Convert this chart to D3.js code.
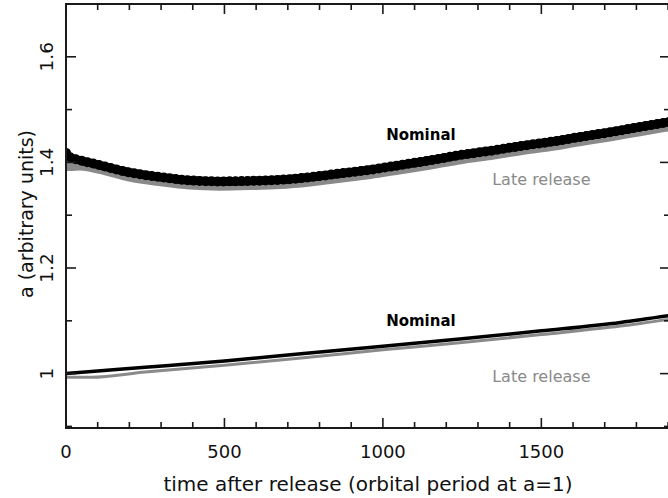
<!DOCTYPE html>
<html>
<head>
<meta charset="utf-8">
<script src="https://cdn.jsdelivr.net/npm/d3@7"></script>
<style>
  body { margin: 0; background: #fff; }
  svg { display: block; font-family: "DejaVu Sans", sans-serif; }
</style>
</head>
<body>
<svg width="668" height="498"></svg>
<script>
// time after release (orbital periods) and semi-major axis a
var timeUpper    = [0, 12, 45, 105, 200, 300, 390, 485, 580, 675, 770, 865, 960, 1055, 1150, 1245, 1340, 1435, 1530, 1620, 1715, 1810, 1906];
var nominalUpper = [1.418, 1.410, 1.404, 1.395, 1.381, 1.372, 1.366, 1.364, 1.365, 1.367, 1.372, 1.379, 1.386, 1.395, 1.404, 1.414, 1.422, 1.431, 1.439, 1.448, 1.457, 1.467, 1.477];
var lateUpper    = [1.393, 1.393, 1.394, 1.388, 1.373, 1.364, 1.358, 1.356, 1.357, 1.359, 1.364, 1.371, 1.378, 1.387, 1.396, 1.406, 1.414, 1.423, 1.431, 1.440, 1.449, 1.459, 1.469];

var timeLower    = [0, 80, 250, 500, 750, 1000, 1250, 1500, 1750, 1906];
var nominalLower = [1.000, 1.004, 1.012, 1.024, 1.038, 1.052, 1.066, 1.081, 1.097, 1.110];
var lateLower    = [0.993, 0.993, 1.003, 1.016, 1.030, 1.045, 1.059, 1.074, 1.090, 1.103];

var xTicks = [0, 500, 1000, 1500];
var yTicks = [1, 1.2, 1.4, 1.6];

var labelText = ["Nominal", "Late release", "Nominal", "Late release"];
var labelTime = [1120, 1500, 1120, 1500];
var labelA    = [1.442, 1.357, 1.091, 0.985];
var labelKind = ["nominal", "late", "nominal", "late"];

var svg = d3.select("svg"),
    margin = {top: 4, right: -2, bottom: 70, left: 66},
    width = +svg.attr("width") - margin.left - margin.right,
    height = +svg.attr("height") - margin.top - margin.bottom;

var x = d3.scaleLinear().domain([0, 1906]).range([0, width]);
var y = d3.scaleLinear().domain([0.897, 1.7]).range([height, 0]);

svg.append("defs").append("clipPath")
    .attr("id", "clip")
  .append("rect")
    .attr("width", width)
    .attr("height", height);

var g = svg.append("g")
    .attr("transform", "translate(" + margin.left + "," + margin.top + ")");

var plot = g.append("g").attr("clip-path", "url(#clip)");

var line = d3.line()
    .curve(d3.curveMonotoneX)
    .x(function(d) { return x(d[0]); })
    .y(function(d) { return y(d[1]); });

function pairs(t, v) { return t.map(function(d, i) { return [d, v[i]]; }); }

// upper pair: thick bands
plot.append("path")
    .attr("d", line(pairs(timeUpper, lateUpper)))
    .attr("fill", "none")
    .attr("stroke", "#8a8a8a")
    .attr("stroke-width", 10);

plot.append("path")
    .attr("d", line(pairs(timeUpper, nominalUpper)))
    .attr("fill", "none")
    .attr("stroke", "#000")
    .attr("stroke-width", 8.5);

// dotted texture of the nominal band
plot.append("path")
    .attr("d", line(pairs(timeUpper, nominalUpper)))
    .attr("fill", "none")
    .attr("stroke", "#000")
    .attr("stroke-width", 10)
    .attr("stroke-linecap", "round")
    .attr("stroke-dasharray", "0,6");

// lower pair: thin lines
plot.append("path")
    .attr("d", line(pairs(timeLower, lateLower)))
    .attr("fill", "none")
    .attr("stroke", "#8a8a8a")
    .attr("stroke-width", 3);

plot.append("path")
    .attr("d", line(pairs(timeLower, nominalLower)))
    .attr("fill", "none")
    .attr("stroke", "#000")
    .attr("stroke-width", 3.5);

// frame with inward ticks on all four sides
var xMinor = d3.range(0, 1901, 100),
    yMinor = d3.range(0.9, 1.7, 0.1);

function tickLen(v, major) { return major.some(function(m) { return Math.abs(m - v) < 1e-6; }) ? 10 : 6; }

var frame = g.append("g").attr("stroke", "#1a1a1a");

frame.append("rect")
    .attr("width", width)
    .attr("height", height)
    .attr("fill", "none")
    .attr("stroke-width", 2);

frame.selectAll(".xb").data(xMinor).enter().append("line")
    .attr("x1", function(d) { return x(d); })
    .attr("x2", function(d) { return x(d); })
    .attr("y1", height)
    .attr("y2", function(d) { return height - tickLen(d, xTicks); })
    .attr("stroke-width", 1.6);

frame.selectAll(".xt").data(xMinor).enter().append("line")
    .attr("x1", function(d) { return x(d); })
    .attr("x2", function(d) { return x(d); })
    .attr("y1", 0)
    .attr("y2", function(d) { return tickLen(d, xTicks); })
    .attr("stroke-width", 1.6);

frame.selectAll(".yl").data(yMinor).enter().append("line")
    .attr("y1", function(d) { return y(d); })
    .attr("y2", function(d) { return y(d); })
    .attr("x1", 0)
    .attr("x2", function(d) { return tickLen(d, yTicks); })
    .attr("stroke-width", 1.6);

frame.selectAll(".yr").data(yMinor).enter().append("line")
    .attr("y1", function(d) { return y(d); })
    .attr("y2", function(d) { return y(d); })
    .attr("x1", width)
    .attr("x2", function(d) { return width - tickLen(d, yTicks); })
    .attr("stroke-width", 1.6);

// tick labels
g.selectAll(".xlab").data(xTicks).enter().append("text")
    .attr("x", function(d) { return x(d); })
    .attr("y", height + 30)
    .attr("text-anchor", "middle")
    .style("font-size", "18px")
    .style("fill", "#111")
    .text(function(d) { return d; });

g.selectAll(".ylab").data(yTicks).enter().append("text")
    .attr("transform", function(d) { return "translate(-13," + y(d) + ")rotate(-90)"; })
    .attr("text-anchor", "middle")
    .style("font-size", "18.5px")
    .style("fill", "#111")
    .text(function(d) { return d; });

// axis titles
svg.append("text")
    .attr("x", 368)
    .attr("y", 491)
    .attr("text-anchor", "middle")
    .style("font-size", "20px")
    .style("fill", "#111")
    .text("time after release (orbital period at a=1)");

svg.append("text")
    .attr("transform", "translate(33,214)rotate(-90)")
    .attr("text-anchor", "middle")
    .style("font-size", "19px")
    .style("fill", "#111")
    .text("a (arbitrary units)");

// curve labels
g.selectAll(".clab").data(labelText).enter().append("text")
    .attr("x", function(d, i) { return x(labelTime[i]); })
    .attr("y", function(d, i) { return y(labelA[i]); })
    .attr("text-anchor", "middle")
    .style("font-size", function(d, i) { return labelKind[i] === "nominal" ? "15px" : "16px"; })
    .style("font-weight", function(d, i) { return labelKind[i] === "nominal" ? "bold" : "normal"; })
    .style("fill", function(d, i) { return labelKind[i] === "nominal" ? "#000" : "#8a8a8a"; })
    .text(function(d) { return d; });
</script>
</body>
</html>
